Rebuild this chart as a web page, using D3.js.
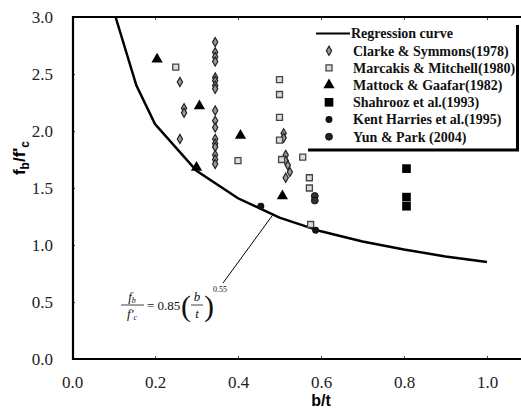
<!DOCTYPE html>
<html><head><meta charset="utf-8">
<script src="https://cdn.jsdelivr.net/npm/d3@7"></script>
<style>body{margin:0;background:#fff}svg{display:block}</style>
</head><body>
<svg id="c" width="521" height="409"></svg>
<script>
// Regression curve
const curveX = [0.105, 0.155, 0.2, 0.3, 0.4, 0.5, 0.6, 0.7, 0.8, 0.9, 1.0];
const curveY = [3.0, 2.40, 2.06, 1.65, 1.41, 1.24, 1.12, 1.03, 0.96, 0.90, 0.85];

const clarkeX = [0.26, 0.27, 0.27, 0.26, 0.345, 0.345, 0.345, 0.345, 0.345, 0.345, 0.345, 0.345, 0.345, 0.345, 0.345, 0.345, 0.345, 0.345, 0.345, 0.345, 0.345, 0.51, 0.51, 0.515, 0.515, 0.52, 0.525, 0.515];
const clarkeY = [2.43, 2.20, 2.16, 1.93, 2.78, 2.69, 2.65, 2.61, 2.47, 2.44, 2.40, 2.37, 2.18, 2.09, 2.03, 1.93, 1.89, 1.86, 1.79, 1.75, 1.71, 1.98, 1.94, 1.79, 1.74, 1.70, 1.64, 1.59];

const marcakisX = [0.25, 0.40, 0.50, 0.50, 0.50, 0.50, 0.505, 0.556, 0.572, 0.572, 0.575];
const marcakisY = [2.56, 1.74, 2.45, 2.32, 2.12, 1.92, 1.75, 1.77, 1.59, 1.50, 1.18];

const mattockX = [0.205, 0.307, 0.30, 0.406, 0.507];
const mattockY = [2.63, 2.22, 1.68, 1.96, 1.43];

const shahroozX = [0.806, 0.806, 0.806];
const shahroozY = [1.67, 1.42, 1.34];

const kentX = [0.455, 0.587];
const kentY = [1.34, 1.13];

const yunX = [0.585, 0.585];
const yunY = [1.43, 1.39];

const xTicks = [0.0, 0.2, 0.4, 0.6, 0.8, 1.0];
const yTicks = [0.0, 0.5, 1.0, 1.5, 2.0, 2.5, 3.0];

const legendLabels = ["Regression curve", "Clarke & Symmons(1978)", "Marcakis & Mitchell(1980)", "Mattock & Gaafar(1982)", "Shahrooz et al.(1993)", "Kent Harries et al.(1995)", "Yun & Park (2004)"];

const svg = d3.select("#c");
const x = d3.scaleLinear().domain([0, 1]).range([72, 487]);
const y = d3.scaleLinear().domain([0, 3]).range([359, 17]);

const serif = "'Liberation Serif','Times New Roman',serif";
const sans = "'Liberation Sans',Arial,sans-serif";

// Axes
const gx = svg.append("g").attr("transform", "translate(0,359)")
  .call(d3.axisBottom(x).tickValues(xTicks).tickFormat(d3.format(".1f")).tickSizeInner(-3).tickSizeOuter(0).tickPadding(16.5));
const gy = svg.append("g").attr("transform", "translate(72,0)")
  .call(d3.axisLeft(y).tickValues(yTicks).tickFormat(d3.format(".1f")).tickSizeInner(-3).tickSizeOuter(0).tickPadding(19));
const gt = svg.append("g").attr("transform", "translate(0,17)")
  .call(d3.axisTop(x).tickValues(xTicks).tickFormat("").tickSizeInner(-3).tickSizeOuter(0));
[gx, gy, gt].forEach(g => {
  g.attr("font-family", null).attr("font-size", null);
  g.select(".domain").remove();
  g.selectAll(".tick line").attr("stroke", "#444").attr("stroke-width", 1);
  g.selectAll(".tick text").style("font-family", serif).style("font-size", "17px").attr("fill", "#222");
});
// frame lines
svg.append("line").attr("x1", 72).attr("x2", 521).attr("y1", 359).attr("y2", 359).attr("stroke", "#000").attr("stroke-width", 2.2);
svg.append("line").attr("x1", 72).attr("x2", 521).attr("y1", 17).attr("y2", 17).attr("stroke", "#000").attr("stroke-width", 2.2);
svg.append("line").attr("x1", 73).attr("x2", 73).attr("y1", 16).attr("y2", 360).attr("stroke", "#000").attr("stroke-width", 2.2);

// axis titles
svg.append("text").attr("x", x(0.6)).attr("y", 406).attr("text-anchor", "middle")
  .style("font-family", sans).attr("font-weight", "bold").attr("font-size", 16).text("b/t");
const yt = svg.append("text").attr("transform", "translate(25,158) rotate(-90)").attr("text-anchor", "middle")
  .style("font-family", sans).attr("font-weight", "bold").attr("font-size", 17);
yt.append("tspan").text("f");
yt.append("tspan").attr("font-size", 12).attr("dy", 4).text("b");
yt.append("tspan").attr("dy", -4).text("/f'");
yt.append("tspan").attr("font-size", 12).attr("dy", 4).text("c");

// regression curve
const curveData = curveX.map((v, i) => [v, curveY[i]]);
svg.append("path").datum(curveData)
  .attr("d", d3.line().x(d => x(d[0])).y(d => y(d[1])))
  .attr("fill", "none").attr("stroke", "#000").attr("stroke-width", 2.5);

// markers
function pts(xs, ys) { return xs.map((v, i) => [v, ys[i]]); }
const symDefs = [
  {data: pts(clarkeX, clarkeY), type: d3.symbolDiamond, size: 24, fill: "#999", stroke: "#222", sw: 1.2},
  {data: pts(marcakisX, marcakisY), type: d3.symbolSquare, size: 36, fill: "#ddd", stroke: "#444", sw: 1.3},
  {data: pts(mattockX, mattockY), type: d3.symbolTriangle, size: 55, fill: "#000", stroke: "none", sw: 0},
  {data: pts(shahroozX, shahroozY), type: d3.symbolSquare, size: 75, fill: "#000", stroke: "none", sw: 0},
  {data: pts(kentX, kentY), type: d3.symbolCircle, size: 38, fill: "#111", stroke: "none", sw: 0},
  {data: pts(yunX, yunY), type: d3.symbolCircle, size: 38, fill: "#333", stroke: "#000", sw: 0.8}
];
symDefs.forEach(s => {
  svg.append("g").selectAll("path").data(s.data).join("path")
    .attr("transform", d => `translate(${x(d[0])},${y(d[1])})`)
    .attr("d", d3.symbol().type(s.type).size(s.size))
    .attr("fill", s.fill).attr("stroke", s.stroke).attr("stroke-width", s.sw);
});

// annotation leader
svg.append("line").attr("x1", 223).attr("y1", 283).attr("x2", x(0.483)).attr("y2", y(1.26))
  .attr("stroke", "#000").attr("stroke-width", 1);

// formula
const f = svg.append("g").style("font-family", serif).attr("font-style", "italic").attr("fill", "#111");
f.append("text").attr("x", 132).attr("y", 301).attr("text-anchor", "middle").attr("font-size", 13).text("f").append("tspan").attr("font-size", 8).attr("dy", 2).text("b");
f.append("line").attr("x1", 121).attr("x2", 144).attr("y1", 305).attr("y2", 305).attr("stroke", "#111").attr("stroke-width", 0.8);
f.append("text").attr("x", 132).attr("y", 318).attr("text-anchor", "middle").attr("font-size", 13).text("f'").append("tspan").attr("font-size", 8).attr("dy", 2).text("c");
f.append("text").attr("x", 147).attr("y", 310).attr("font-style", "normal").attr("font-size", 13).text("= 0.85");
f.append("text").attr("x", 181).attr("y", 316).attr("font-style", "normal").attr("font-size", 30).attr("font-weight", "100").text("(");
f.append("text").attr("x", 197).attr("y", 301).attr("text-anchor", "middle").attr("font-size", 13).text("b");
f.append("line").attr("x1", 191).attr("x2", 203).attr("y1", 305).attr("y2", 305).attr("stroke", "#111").attr("stroke-width", 0.8);
f.append("text").attr("x", 197).attr("y", 318).attr("text-anchor", "middle").attr("font-size", 13).text("t");
f.append("text").attr("x", 204).attr("y", 316).attr("font-style", "normal").attr("font-size", 30).text(")");
f.append("text").attr("x", 213).attr("y", 292).attr("font-style", "normal").attr("font-size", 8).attr("fill", "#111").text("0.55");

// legend
const lg = svg.append("g");
lg.append("rect").attr("x", 309).attr("y", 22).attr("width", 208).attr("height", 128).attr("fill", "#fff");
lg.append("line").attr("x1", 308).attr("x2", 519).attr("y1", 150).attr("y2", 150).attr("stroke", "#000").attr("stroke-width", 3);
lg.append("line").attr("x1", 517.5).attr("x2", 517.5).attr("y1", 25).attr("y2", 151).attr("stroke", "#000").attr("stroke-width", 3);
const rowY = legendLabels.map((_, i) => 33.5 + i * 17.2);
lg.append("line").attr("x1", 316).attr("x2", 350).attr("y1", rowY[0]).attr("y2", rowY[0]).attr("stroke", "#000").attr("stroke-width", 2);
const legSyms = [
  {type: d3.symbolDiamond, size: 24, fill: "#999", stroke: "#222", sw: 1.2},
  {type: d3.symbolSquare, size: 36, fill: "#ddd", stroke: "#444", sw: 1.3},
  {type: d3.symbolTriangle, size: 55, fill: "#000", stroke: "none", sw: 0},
  {type: d3.symbolSquare, size: 75, fill: "#000", stroke: "none", sw: 0},
  {type: d3.symbolCircle, size: 38, fill: "#111", stroke: "none", sw: 0},
  {type: d3.symbolCircle, size: 38, fill: "#222", stroke: "#000", sw: 0.8}
];
legSyms.forEach((s, i) => {
  lg.append("path").attr("transform", `translate(329,${rowY[i + 1]})`)
    .attr("d", d3.symbol().type(s.type).size(s.size))
    .attr("fill", s.fill).attr("stroke", s.stroke).attr("stroke-width", s.sw);
});
lg.selectAll("text.l").data(legendLabels).join("text").attr("class", "l")
  .attr("x", (d, i) => i === 0 ? 351 : 353).attr("y", (d, i) => rowY[i]).attr("dy", "0.35em")
  .style("font-family", serif).attr("font-weight", "bold").attr("font-size", 14).attr("fill", "#111")
  .text(d => d);
</script>
</body></html>
